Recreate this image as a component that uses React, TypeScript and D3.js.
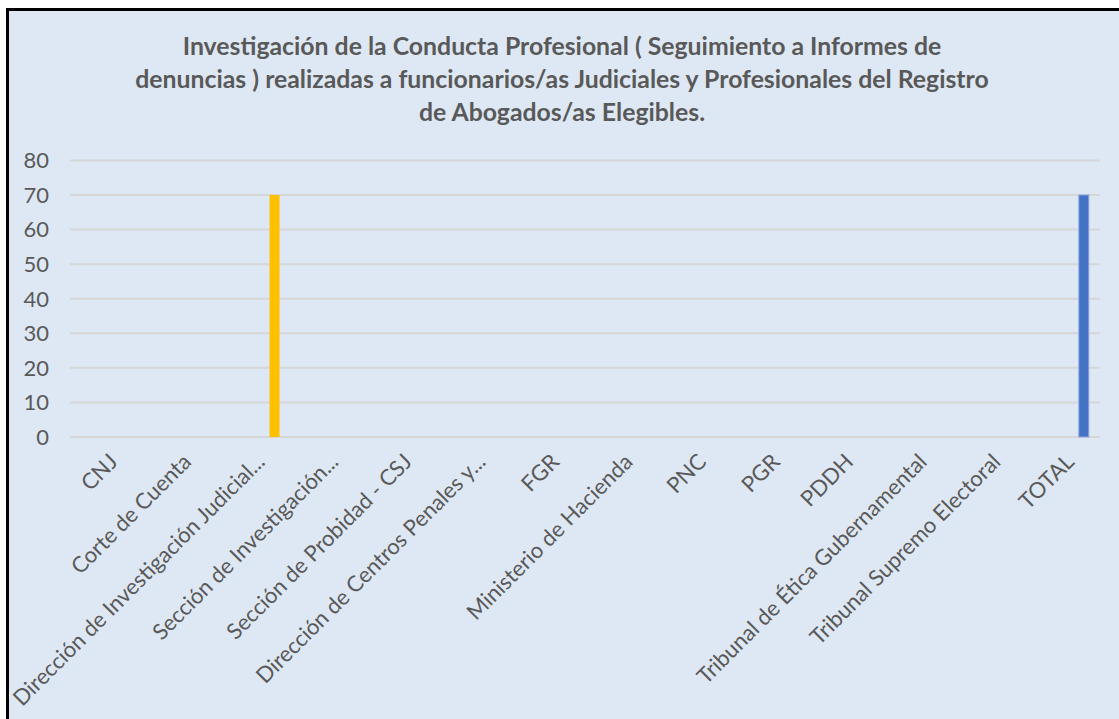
import React from "react";
import * as d3 from "d3";

const categories = [
  "CNJ",
  "Corte de Cuenta",
  "Dirección de Investigación Judicial...",
  "Sección de Investigación...",
  "Sección de Probidad - CSJ",
  "Dirección de Centros Penales y...",
  "FGR",
  "Ministerio de Hacienda",
  "PNC",
  "PGR",
  "PDDH",
  "Tribunal de Ética Gubernamental",
  "Tribunal Supremo Electoral",
  "TOTAL",
];
const values = [0, 0, 70, 0, 0, 0, 0, 0, 0, 0, 0, 0, 0, 70];
const barColors = [
  "#4472c4", "#ed7d31", "#ffc000", "#5b9bd5", "#70ad47", "#264478", "#9e480e",
  "#636363", "#997300", "#255e91", "#43682b", "#698ed0", "#f1975a", "#4472c4",
];
const yTicks = [0, 10, 20, 30, 40, 50, 60, 70, 80];
const titleLines = [
  "Investigación de la Conducta Profesional ( Seguimiento a Informes de",
  "denuncias ) realizadas a funcionarios/as Judiciales y Profesionales del Registro",
  "de Abogados/as Elegibles.",
];

const W = 1119;
const H = 719;
const plot = { left: 70, right: 1100, top: 160.4, bottom: 437 };
const textColor = "#595959";
const font = "Lato, 'Open Sans', sans-serif";

export default function App() {
  const x = d3.scaleBand<string>().domain(categories).range([plot.left, plot.right]).padding(0);
  const y = d3.scaleLinear().domain([0, 80]).range([plot.bottom, plot.top]);
  const bw = x.bandwidth();
  const barW = bw * 0.136;
  const barCenter = bw * 0.78;

  return (
    <svg
      width={W}
      height={H}
      style={{ position: "absolute", left: 0, top: 0, display: "block" }}
      fontFamily={font}
    >
      <rect x={0} y={0} width={W} height={H} fill="#ffffff" />
      <rect x={6} y={8} width={W - 6} height={H - 8} fill="#dee8f4" />
      <line x1={7.5} y1={8} x2={7.5} y2={H} stroke="#000" strokeWidth={3} />
      <line x1={6} y1={9.5} x2={W} y2={9.5} stroke="#000" strokeWidth={3} />

      {titleLines.map((t, i) => (
        <text
          key={i}
          x={562}
          y={55 + i * 33}
          textAnchor="middle"
          fill={textColor}
          fontSize={24.8}
          fontWeight="bold"
        >
          {t}
        </text>
      ))}

      {yTicks.map((t) => (
        <g key={t}>
          <line
            x1={plot.left}
            x2={plot.right}
            y1={y(t)}
            y2={y(t)}
            stroke="#d6d6d6"
            strokeWidth={2}
          />
          <text
            x={49}
            y={y(t)}
            dy="0.36em"
            textAnchor="end"
            fill={textColor}
            fontSize={22}
          >
            {t}
          </text>
        </g>
      ))}

      {categories.map((c, i) =>
        values[i] > 0 ? (
          <rect
            key={c}
            x={(x(c) as number) + barCenter - barW / 2}
            y={y(values[i])}
            width={barW}
            height={y(0) - y(values[i])}
            fill={barColors[i]}
            stroke={i === categories.length - 1 ? "#8fa9dc" : "none"}
            strokeWidth={1}
          />
        ) : null
      )}

      {categories.map((c) => {
        const cx = (x(c) as number) + bw / 2 + 1;
        const cy = 452;
        return (
          <text
            key={c}
            transform={`translate(${cx},${cy}) rotate(-45)`}
            textAnchor="end"
            dy="0.72em"
            fill={textColor}
            fontSize={22}
          >
            {c}
          </text>
        );
      })}
    </svg>
  );
}
